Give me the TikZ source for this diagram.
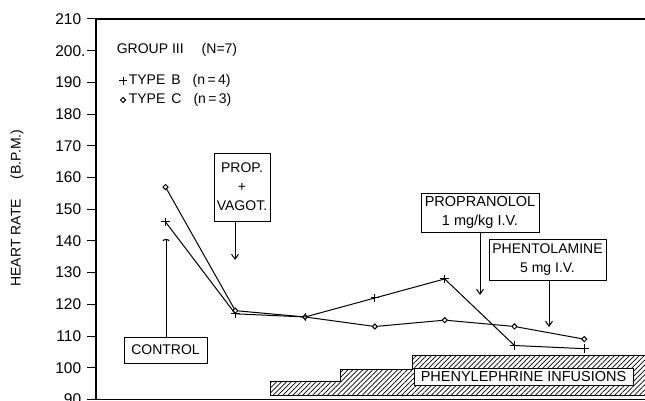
\documentclass[tikz,border=0pt]{standalone}
\usepackage{fontspec}
\setmainfont{Liberation Sans}
\usetikzlibrary{arrows.meta,shapes.geometric,shapes.misc,patterns.meta}

\begin{document}
\begin{tikzpicture}[x=1pt,y=-1pt,line width=1pt,font=\fontsize{14}{16}\selectfont]

    \tikzstyle{box}=[draw,fill=white,inner sep=0pt,align=center]
    \tikzstyle{bmark}=[cross out,draw,rotate=45,minimum size=5pt,inner sep=0pt]
    \tikzstyle{cmark}=[diamond,draw,fill=white,minimum size=5.5pt,inner sep=0pt]
    \tikzstyle{drug}=[-{Straight Barb[length=5pt,width=7pt]}]

    \useasboundingbox (0,0) rectangle (645,401);

    % heart rate axis in data units
    \begin{scope}[yshift=-684.7pt,y=3.17pt]
      \draw[line width=1.2pt] (96,90) -- (96,210) -- (645,210);
      \draw[line width=1.2pt] (96,90) -- (645,90);
      \foreach \v in {90,100,...,210} {
        \draw (87,\v) -- (96,\v);
        \node[anchor=east,font=\fontsize{15.5}{17}\selectfont] (t\v) at (85,\v) {\v\ifnum\v=200\rlap{.}\fi};
      }
      \foreach \b [count=\i] in {146,117,116,122,128,107,106}
        \node[bmark] (b\i) at ({165.5+69.8*(\i-1)},\b) {};
      \foreach \c [count=\i] in {157,118,116,113,115,113,109}
        \node[cmark] (c\i) at ({165.5+69.8*(\i-1)},\c) {};
      \draw (b1.center) -- (b2.center) -- (b3.center) -- (b4.center)
            -- (b5.center) -- (b6.center) -- (b7.center);
      \draw (c1) -- (c2) -- (c3) -- (c4) -- (c5) -- (c6) -- (c7);
    \end{scope}

    \node[rotate=90] (ylab) at (17,208) {HEART RATE\hspace{20pt}(B.P.M.)};

    % legend
    \node[anchor=west] (group) at (113,50) {GROUP III\hspace{18pt}(N=7)};
    \node[bmark] (lb) at (123,81) {};
    \node[anchor=west] (typeb) at (125,81) {TYPE\hspace{6pt}B\hspace{12pt}(n\,=\,4)};
    \node[cmark] (lc) at (123,100) {};
    \node[anchor=west] (typec) at (125,100) {TYPE\hspace{6pt}C\hspace{12pt}(n\,=\,3)};

    % phenylephrine steps
    \draw[pattern={Lines[angle=45,distance=3.5pt,line width=.7pt]}]
      (270,395) |- (340,381.7) |- (412,369) |- (645,355.7) -- (645,395) -- cycle;
    \node[box,minimum width=219pt,minimum height=17pt,font=\fontsize{14.5}{16}\selectfont] (infus) at (523.5,376.5) {PHENYLEPHRINE INFUSIONS};

    % drug boxes
    \node[box,minimum width=83pt,minimum height=26pt] (control) at (165.5,350) {CONTROL};
    \node[box,minimum width=56pt,minimum height=68pt,font=\fontsize{14}{19}\selectfont] (prop) at (242,187) {PROP.\\+\\VAGOT.};
    \node[box,minimum width=118pt,minimum height=39pt,font=\fontsize{14.5}{19}\selectfont] (propr) at (480,212.5) {PROPRANOLOL\\1 mg/kg I.V.};
    \node[box,minimum width=117pt,minimum height=41pt,font=\fontsize{14}{19}\selectfont] (phent) at (547.5,259.5) {PHENTOLAMINE\\5 mg I.V.};

    \coordinate (cv) at (166,239);
    \coordinate (pv) at (235,260);
    \coordinate (pr) at (480,295);
    \coordinate (ph) at (549,327);

    \draw[-{Arc Barb[length=2pt,width=7pt]}] (control.north -| cv) -- (cv);
    \draw[drug] (prop.south -| pv) -- (pv);
    \draw[drug] (propr) -- (pr);
    \draw[drug] (phent.south -| ph) -- (ph);

\end{tikzpicture}
\end{document}
